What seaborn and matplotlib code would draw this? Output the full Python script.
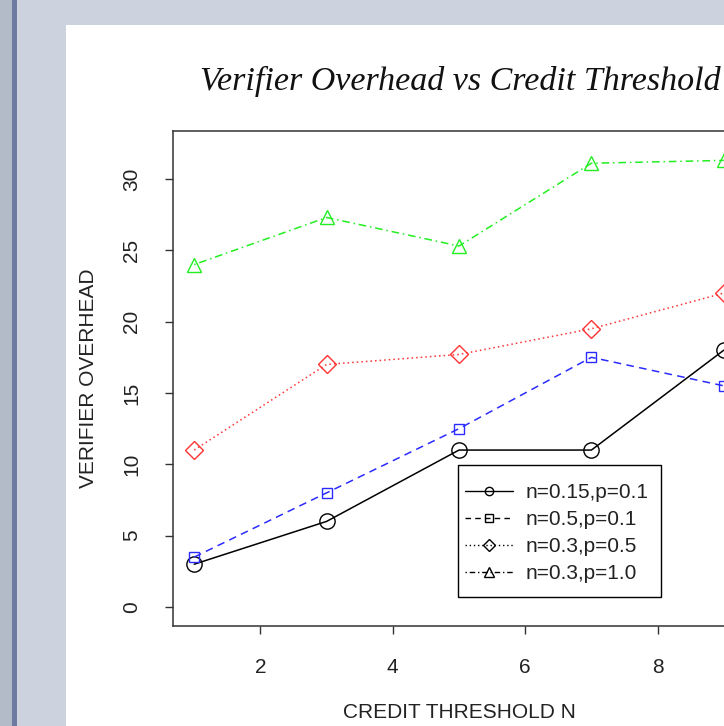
import matplotlib
matplotlib.use("Agg")
import matplotlib.pyplot as plt
import seaborn as sns
import pandas as pd
from matplotlib.lines import Line2D
from matplotlib.patches import Rectangle

# ---- data ----
threshold = [1, 3, 5, 7, 9]
s_015_01 = [3.0, 6.0, 11.0, 11.0, 18.0]
s_05_01 = [3.5, 8.0, 12.5, 17.5, 15.5]
s_03_05 = [11.0, 17.0, 17.7, 19.5, 22.0]
s_03_10 = [24.0, 27.3, 25.3, 31.1, 31.3]
labels = ["n=0.15,p=0.1", "n=0.5,p=0.1", "n=0.3,p=0.5", "n=0.3,p=1.0"]
x_ticks = [2, 4, 6, 8]
y_ticks = [0, 5, 10, 15, 20, 25, 30]

sns.set_theme(style="white")
plt.rcParams["font.family"] = ["Liberation Sans", "DejaVu Sans"]

W, H = 724, 726
fig = plt.figure(figsize=(W / 100, H / 100), dpi=100, facecolor="#cdd3de")

# window frame / page
fig.patches.append(Rectangle((0, 0), 12 / W, 1, transform=fig.transFigure,
                             facecolor="#b3bbc9", edgecolor="none", zorder=-5))
fig.patches.append(Rectangle((12 / W, 0), 5 / W, 1, transform=fig.transFigure,
                             facecolor="#6d7ba1", edgecolor="none", zorder=-5))
fig.patches.append(Rectangle((66 / W, 0), 1, 1 - 25 / H, transform=fig.transFigure,
                             facecolor="white", edgecolor="none", zorder=-5))

left, right, top, bottom = 173, 745, 131, 626
ax = fig.add_axes([left / W, 1 - bottom / H, (right - left) / W, (bottom - top) / H])
ax.set_facecolor("none")

series = [
    (s_015_01, "black", "o", "-", 11),
    (s_05_01, "#2b2bff", "s", (0, (5, 3.5)), 7.5),
    (s_03_05, "#ff3333", "D", (0, (1, 2)), 9.5),
    (s_03_10, "#22ee22", "^", (0, (1, 2.5, 5, 2.5)), 10),
]
for vals, col, mk, ls, ms in series:
    df = pd.DataFrame({"x": threshold, "y": vals})
    sns.lineplot(data=df, x="x", y="y", ax=ax, color=col, marker=mk, linestyle=ls,
                 markersize=ms, markerfacecolor="none", markeredgecolor=col,
                 markeredgewidth=1.0, linewidth=1.1, legend=False)

ax.set_xlim(0.68, 9.32)
ax.set_ylim(-1.33, 33.36)
ax.set_xticks(x_ticks)
ax.set_xticklabels([str(t) for t in x_ticks], fontsize=15)
ax.set_yticks(y_ticks)
ax.set_yticklabels([str(t) for t in y_ticks], fontsize=15, rotation=90, va="center")
ax.tick_params(axis="both", which="major", direction="out", length=6, width=1.0,
               color="#333333", labelcolor="#222222", bottom=True, left=True)
ax.tick_params(axis="x", pad=17)
ax.tick_params(axis="y", pad=17)
for sp in ax.spines.values():
    sp.set_color("#333333")
    sp.set_linewidth(1.1)

ax.set_xlabel("CREDIT THRESHOLD N", fontsize=15, color="#222222", labelpad=19)
ax.set_ylabel("VERIFIER OVERHEAD", fontsize=15, color="#222222", labelpad=17)

fig.text(460 / W, 1 - 90 / H, "Verifier Overhead vs Credit Threshold",
         fontsize=24.5, style="italic", family=["Liberation Serif", "DejaVu Serif"],
         color="#111111", ha="center", va="baseline")

# legend box
fig.patches.append(Rectangle((458 / W, 1 - 597 / H), (661 - 458) / W, (597 - 465) / H,
                             transform=fig.transFigure, facecolor="white",
                             edgecolor="black", linewidth=1.0, zorder=3))
handles = [
    Line2D([], [], color="black", marker="o", ls="-", lw=1.0, ms=6, mfc="none"),
    Line2D([], [], color="black", marker="s", ls=(0, (4, 3)), lw=1.0, ms=5.5, mfc="none"),
    Line2D([], [], color="black", marker="D", ls=(0, (1, 2)), lw=1.0, ms=6, mfc="none"),
    Line2D([], [], color="black", marker="^", ls=(0, (1, 2, 4, 2)), lw=1.0, ms=7, mfc="none"),
]
leg = fig.legend(handles, labels, loc="upper left",
                 bbox_to_anchor=(465 / W, 1 - 483.5 / H), bbox_transform=fig.transFigure,
                 borderaxespad=0, fontsize=15, frameon=False,
                 handlelength=2.3, handletextpad=0.6, labelspacing=0.375,
                 borderpad=0, numpoints=1)
leg.set_zorder(4)
for t in leg.get_texts():
    t.set_color("#222222")

fig.savefig("out.png", dpi=100, facecolor=fig.get_facecolor())
